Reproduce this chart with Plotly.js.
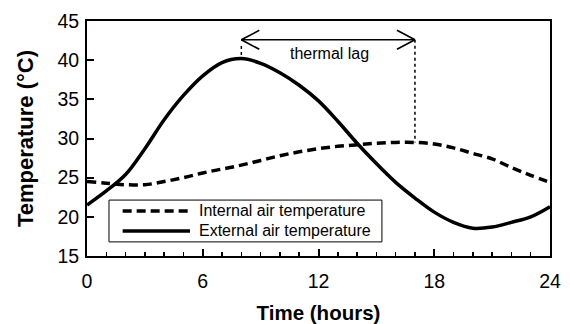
<!DOCTYPE html>
<html>
<head>
<meta charset="utf-8">
<script src="https://cdn.plot.ly/plotly-3.0.1.min.js"></script>
<style>
  html, body { margin: 0; padding: 0; background: #fff; }
  #chart { width: 570px; height: 324px; }
</style>
</head>
<body>
<div id="chart"></div>
<script>
// Hourly air temperatures over one day (°C)
const hours = [0, 1, 2, 3, 4, 5, 6, 7, 8, 9, 10, 11, 12, 13, 14, 15, 16, 17, 18, 19, 20, 21, 22, 23, 24];
const internalTemp = [24.5, 24.3, 24.1, 24.1, 24.5, 25.0, 25.6, 26.1, 26.6, 27.2, 27.8, 28.3, 28.7,
                      29.0, 29.2, 29.4, 29.5, 29.5, 29.3, 28.8, 28.1, 27.4, 26.3, 25.3, 24.4];
const externalTemp = [21.5, 23.3, 25.4, 28.7, 32.4, 35.5, 38.0, 39.7, 40.2, 39.6, 38.4, 36.8, 34.8,
                      32.2, 29.4, 26.8, 24.4, 22.4, 20.6, 19.3, 18.55, 18.7, 19.3, 20.0, 21.3];
const seriesNames = ["Internal air temperature", "External air temperature"];

// Thermal lag: time of the external peak -> time of the internal peak
const lagTimes = [8, 17];
const lagPeakTemps = [40.2, 29.5];
const lagGuideTops = [41.8, 42.6];
const lagArrowTemp = 42.6;
const lagLabel = "thermal lag";

const fontFamily = "Liberation Sans, Arial, sans-serif";
const tickFont = { family: fontFamily, size: 19.5, color: "#000" };
const xTitleFont = { family: fontFamily, size: 20.5, color: "#000", weight: "bold" };
const yTitleFont = { family: fontFamily, size: 22, color: "#000", weight: "bold" };
const smallFont = { family: fontFamily, size: 16, color: "#000" };

const traces = [
  {
    x: hours, y: internalTemp, name: seriesNames[0], type: "scatter", mode: "lines",
    line: { color: "#000", width: 3.5, dash: "9px,5px", shape: "spline", smoothing: 1 },
    hoverinfo: "skip"
  },
  {
    x: hours, y: externalTemp, name: seriesNames[1], type: "scatter", mode: "lines",
    line: { color: "#000", width: 3.5, shape: "spline", smoothing: 1 },
    hoverinfo: "skip"
  }
];

const shapes = [];
// dotted guides from the arrow down to each peak
lagTimes.forEach((t, i) => {
  shapes.push({
    type: "line", xref: "x", yref: "y", x0: t, x1: t, y0: lagGuideTops[i], y1: lagPeakTemps[i],
    line: { color: "#000", width: 1.5, dash: "dot" }
  });
});
// double-headed arrow shaft
shapes.push({
  type: "line", xref: "x", yref: "y", x0: lagTimes[0], x1: lagTimes[1], y0: lagArrowTemp, y1: lagArrowTemp,
  line: { color: "#000", width: 1.6 }
});
// open arrow heads (sized in pixels, anchored at the shaft ends)
[[lagTimes[0], 1], [lagTimes[1], -1]].forEach(([t, dir]) => {
  [1, -1].forEach(s => {
    shapes.push({
      type: "line", xref: "x", yref: "y",
      xsizemode: "pixel", xanchor: t, ysizemode: "pixel", yanchor: lagArrowTemp,
      x0: 0, x1: dir * 18, y0: 0, y1: s * 9.5,
      line: { color: "#000", width: 1.6 }
    });
  });
});

// legend box with line samples
const legendBox = { x0: 0.0475, x1: 0.637, y0: 0.06, y1: 0.238 };
const legendRows = [0.1915, 0.1064];
shapes.push({
  type: "rect", xref: "paper", yref: "paper",
  x0: legendBox.x0, x1: legendBox.x1, y0: legendBox.y0, y1: legendBox.y1,
  fillcolor: "#fff", line: { color: "#000", width: 1 }, layer: "above"
});
const legendDashes = ["9px,5px", "solid"];
legendRows.forEach((yy, i) => {
  shapes.push({
    type: "line", xref: "paper", yref: "paper", x0: 0.077, x1: 0.2225, y0: yy, y1: yy,
    line: { color: "#000", width: 3.5, dash: legendDashes[i] }, layer: "above"
  });
});

const annotations = [
  {
    x: (lagTimes[0] + lagTimes[1]) / 2 + 0.05, y: 40.85, xref: "x", yref: "y",
    text: lagLabel, showarrow: false, font: smallFont, xanchor: "center", yanchor: "middle"
  }
];
legendRows.forEach((yy, i) => {
  annotations.push({
    x: 0.238, y: yy, xref: "paper", yref: "paper", text: seriesNames[i], showarrow: false,
    font: smallFont, xanchor: "left", yanchor: "middle"
  });
});

const layout = {
  width: 570, height: 324,
  margin: { l: 87, r: 20, t: 21, b: 68, pad: 0 },
  paper_bgcolor: "#fff", plot_bgcolor: "#fff",
  showlegend: false,
  xaxis: {
    range: [0, 24], tickvals: [0, 6, 12, 18, 24], ticktext: ["0", "6", "12", "18", "24"],
    ticks: "inside", ticklen: 7, tickwidth: 2, tickcolor: "#000",
    minor: { dtick: 1, ticks: "inside", ticklen: 4, tickwidth: 1.5, tickcolor: "#000", showgrid: false },
    showline: true, linecolor: "#000", linewidth: 2, mirror: true,
    showgrid: false, zeroline: false, tickfont: tickFont, ticklabelstandoff: 7,
    title: { text: "Time (hours)", font: xTitleFont, standoff: 16 }
  },
  yaxis: {
    range: [15, 45], tickvals: [15, 20, 25, 30, 35, 40, 45],
    ticks: "inside", ticklen: 7, tickwidth: 2, tickcolor: "#000",
    showline: true, linecolor: "#000", linewidth: 2, mirror: true,
    showgrid: false, zeroline: false, tickfont: tickFont, ticklabelstandoff: 2,
    title: { text: "Temperature (°C)", font: yTitleFont, standoff: 18 }
  },
  shapes: shapes,
  annotations: annotations
};

Plotly.newPlot("chart", traces, layout, { staticPlot: true, displayModeBar: false });
</script>
</body>
</html>
